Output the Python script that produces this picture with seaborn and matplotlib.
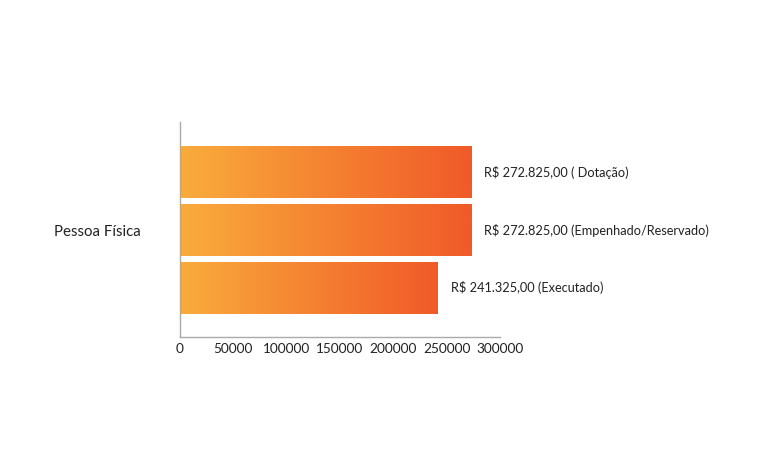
import numpy as np
import pandas as pd
import matplotlib
matplotlib.use("Agg")
import matplotlib.pyplot as plt
from matplotlib.colors import LinearSegmentedColormap
import seaborn as sns

# ---- data ----
categories = ["Pessoa Física"]
series = ["Dotação", "Empenhado/Reservado", "Executado"]
values = [272825.00, 272825.00, 241325.00]
bar_labels = ["R$ 272.825,00 ( Dotação)",
              "R$ 272.825,00 (Empenhado/Reservado)",
              "R$ 241.325,00 (Executado)"]
x_ticks = [0, 50000, 100000, 150000, 200000, 250000, 300000]

df = pd.DataFrame({"categoria": categories * len(series),
                   "serie": series,
                   "valor": values})

sns.set_style("white")
plt.rcParams['font.family'] = ['Lato', 'DejaVu Sans']

fig = plt.figure(figsize=(7.68, 4.63), dpi=100)
W, H = 768, 463
ax = fig.add_axes([180 / W, 1 - 337 / H, 320 / W, 215 / H])

sns.barplot(data=df, y="categoria", x="valor", hue="serie", orient="h",
            width=0.8, gap=0.1, palette=["#F7941D"] * 3, legend=False,
            ax=ax, saturation=1)

cmap = LinearSegmentedColormap.from_list("og", ["#F9AC3C", "#F05A28"])
grad = np.linspace(0, 1, 256).reshape(1, -1)
patches = [p for p in ax.patches]
patches.sort(key=lambda p: p.get_y())
for p in patches:
    x0, y0 = p.get_x(), p.get_y()
    w, h = p.get_width(), p.get_height()
    im = ax.imshow(grad, cmap=cmap, aspect="auto",
                   extent=[x0, x0 + w, y0 + h, y0], zorder=p.get_zorder() + 0.1)
    im.set_clip_path(p)
    p.set_facecolor("none")
    p.set_edgecolor("none")

for p, lab in zip(patches, bar_labels):
    ax.text(p.get_x() + p.get_width() + 12500, p.get_y() + p.get_height() / 2,
            lab, va="center", ha="left", fontsize=9.2, color="#222222")

ax.set_xlim(0, 300000)
ax.set_ylim(0.492, -0.4966)
ax.set_xticks(x_ticks)
ax.set_xticklabels([str(t) for t in x_ticks], fontsize=9.8, color="#222222")
ax.set_xlabel("")
ax.set_ylabel("")
ax.tick_params(axis="x", direction="in", length=4, color="#999999", pad=4)
ax.tick_params(axis="y", which="major", length=0, labelsize=10.8,
               labelcolor="#222222", pad=28)
ax.set_yticks([0.4], minor=True)
ax.tick_params(axis="y", which="minor", direction="inout", length=8,
               color="#777777", width=0.8)

for s in ["top", "right"]:
    ax.spines[s].set_visible(False)
for s in ["left", "bottom"]:
    ax.spines[s].set_color("#aaaaaa")
    ax.spines[s].set_linewidth(1.0)

fig.savefig("out.png", dpi=100)
